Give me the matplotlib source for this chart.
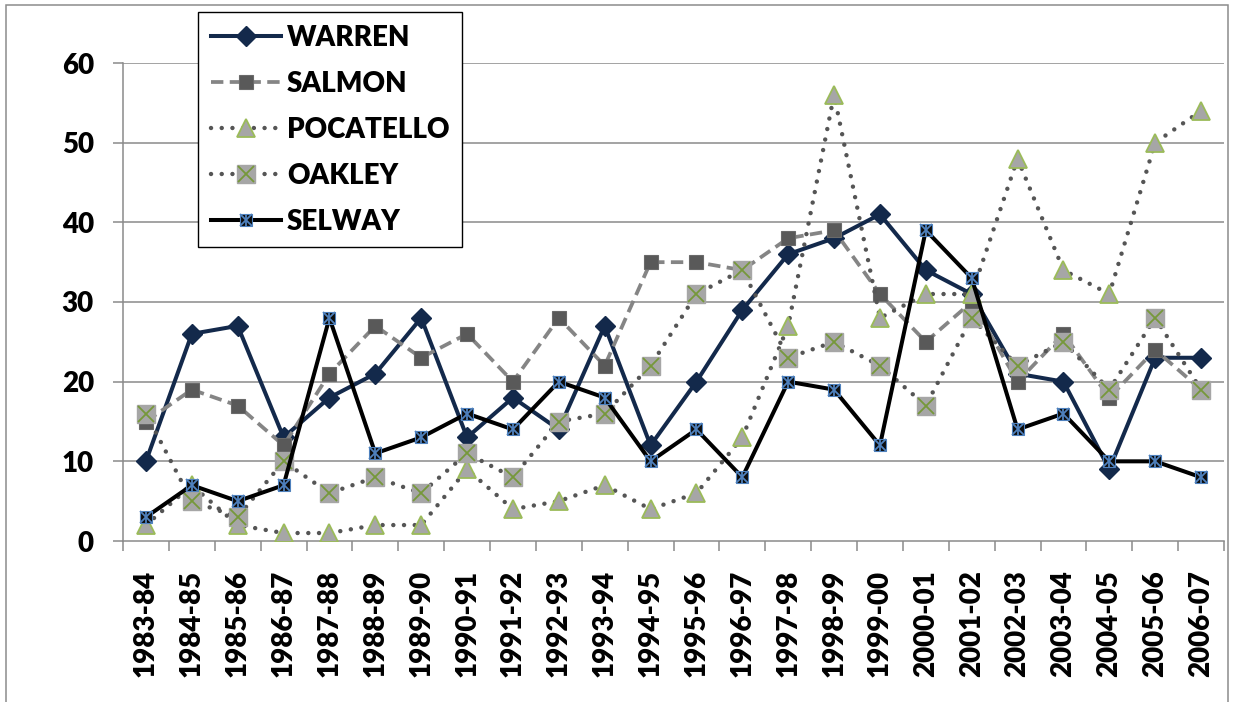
import matplotlib
matplotlib.use("Agg")
import matplotlib.pyplot as plt
from matplotlib.patches import Rectangle
import numpy as np

seasons = ["1983-84", "1984-85", "1985-86", "1986-87", "1987-88", "1988-89",
           "1989-90", "1990-91", "1991-92", "1992-93", "1993-94", "1994-95",
           "1995-96", "1996-97", "1997-98", "1998-99", "1999-00", "2000-01",
           "2001-02", "2002-03", "2003-04", "2004-05", "2005-06", "2006-07"]

warren = [10, 26, 27, 13, 18, 21, 28, 13, 18, 14, 27, 12,
          20, 29, 36, 38, 41, 34, 31, 21, 20, 9, 23, 23]
salmon = [15, 19, 17, 12, 21, 27, 23, 26, 20, 28, 22, 35,
          35, 34, 38, 39, 31, 25, 30, 20, 26, 18, 24, 19]
pocatello = [2, 7, 2, 1, 1, 2, 2, 9, 4, 5, 7, 4,
             6, 13, 27, 56, 28, 31, 31, 48, 34, 31, 50, 54]
oakley = [16, 5, 3, 10, 6, 8, 6, 11, 8, 15, 16, 22,
          31, 34, 23, 25, 22, 17, 28, 22, 25, 19, 28, 19]
selway = [3, 7, 5, 7, 28, 11, 13, 16, 14, 20, 18, 10,
          14, 8, 20, 19, 12, 39, 33, 14, 16, 10, 10, 8]

yticks = [0, 10, 20, 30, 40, 50, 60]

FONT = ["Lato", "DejaVu Sans"]
WEIGHT = "heavy"
plt.rcParams["font.family"] = FONT
plt.rcParams["font.weight"] = WEIGHT

W, H = 1233, 702
fig = plt.figure(figsize=(W / 100, H / 100), dpi=100)
fig.patch.set_facecolor("white")

# outer chart border
fig.patches.append(Rectangle((6 / W, -0.05), 1222 / W, 1.05 - 5 / H,
                             transform=fig.transFigure, fill=False,
                             edgecolor="#8c8c8c", linewidth=1.1, zorder=0))

ax = fig.add_axes([123 / W, (H - 541) / H, 1101 / W, (541 - 63) / H])
x = np.arange(len(seasons))

GRID = "#8a8a8a"
ax.set_xlim(-0.5, len(seasons) - 0.5)
ax.set_ylim(0, 60)
ax.set_yticks(yticks)
ax.set_yticklabels([str(v) for v in yticks])
for v in yticks[1:]:
    ax.axhline(v, color=GRID, linewidth=1.1, zorder=0)

for s in ["top", "right"]:
    ax.spines[s].set_visible(False)
for s in ["left", "bottom"]:
    ax.spines[s].set_color(GRID)
    ax.spines[s].set_linewidth(1.1)

ax.set_xticks(x)
ax.set_xticklabels(seasons, rotation=90)
ax.set_xticks(np.arange(-0.5, len(seasons)), minor=True)
ax.tick_params(axis="x", which="major", length=0, pad=21, labelsize=20)
ax.tick_params(axis="x", which="minor", length=7, width=1.1, color=GRID,
               direction="out")
ax.tick_params(axis="y", which="major", length=7, width=1.1, color=GRID,
               direction="out", pad=14, labelsize=20)
for lab in ax.get_xticklabels() + ax.get_yticklabels():
    lab.set_fontweight(WEIGHT)

NAVY = "#13294b"
DOT = "#555555"
TRI_FILL = "#a6a6a6"
GREEN = "#9bbb59"
XGREEN = "#76983a"
BLUE = "#4f81bd"
dotted = (0, (0.01, 2.4))

# WARREN
h_warren, = ax.plot(x, warren, color=NAVY, linewidth=2.9, marker="D",
                    markersize=10.5, markerfacecolor=NAVY,
                    markeredgecolor=NAVY, zorder=3, label="WARREN")
# SALMON
h_salmon, = ax.plot(x, salmon, color="#858585", linewidth=2.7,
                    linestyle=(0, (3.3, 1.7)), marker="s", markersize=10,
                    markerfacecolor="#595959", markeredgecolor="#6a6a6a",
                    markeredgewidth=0.8, zorder=4, label="SALMON")
# POCATELLO
h_poc, = ax.plot(x, pocatello, color=DOT, linewidth=3.2, linestyle=dotted,
                 dash_capstyle="round", marker="^", markersize=13.5,
                 markerfacecolor=TRI_FILL, markeredgecolor=GREEN,
                 markeredgewidth=1.3, zorder=5, label="POCATELLO")
# OAKLEY
h_oak, = ax.plot(x, oakley, color=DOT, linewidth=3.2, linestyle=dotted,
                 dash_capstyle="round", marker="s", markersize=12.5,
                 markerfacecolor=TRI_FILL, markeredgecolor=TRI_FILL,
                 zorder=6, label="OAKLEY")
h_oak_x, = ax.plot(x, oakley, linestyle="none", marker="x", markersize=12,
                   markeredgecolor=XGREEN, markeredgewidth=1.3, zorder=6.1)
# SELWAY
h_sel, = ax.plot(x, selway, color="black", linewidth=2.9, marker="s",
                 markersize=8.5, markerfacecolor="#0d0d0d",
                 markeredgecolor=BLUE, markeredgewidth=0.8, zorder=7,
                 label="SELWAY")
h_sel_x, = ax.plot(x, selway, linestyle="none", marker="x", markersize=8.5,
                   markeredgecolor=BLUE, markeredgewidth=1.3, zorder=7.1)
h_sel_v, = ax.plot(x, selway, linestyle="none", marker="|", markersize=9,
                   markeredgecolor=BLUE, markeredgewidth=1.3, zorder=7.2)

handles = [h_warren, h_salmon, h_poc, (h_oak, h_oak_x), (h_sel, h_sel_x, h_sel_v)]
labels = ["WARREN", "SALMON", "POCATELLO", "OAKLEY", "SELWAY"]
leg = fig.legend(handles, labels, loc="upper left",
                 bbox_to_anchor=(198 / W, 1 - 12 / H),
                 bbox_transform=fig.transFigure, borderaxespad=0,
                 prop={"family": FONT, "weight": WEIGHT, "size": 20},
                 numpoints=1, handlelength=2.55, handletextpad=0.2,
                 labelspacing=0.72, borderpad=0.45, fancybox=False,
                 framealpha=1, edgecolor="black")
leg.get_frame().set_linewidth(1.0)
leg.set_zorder(20)

fig.savefig("out.png", dpi=100, facecolor="white")
